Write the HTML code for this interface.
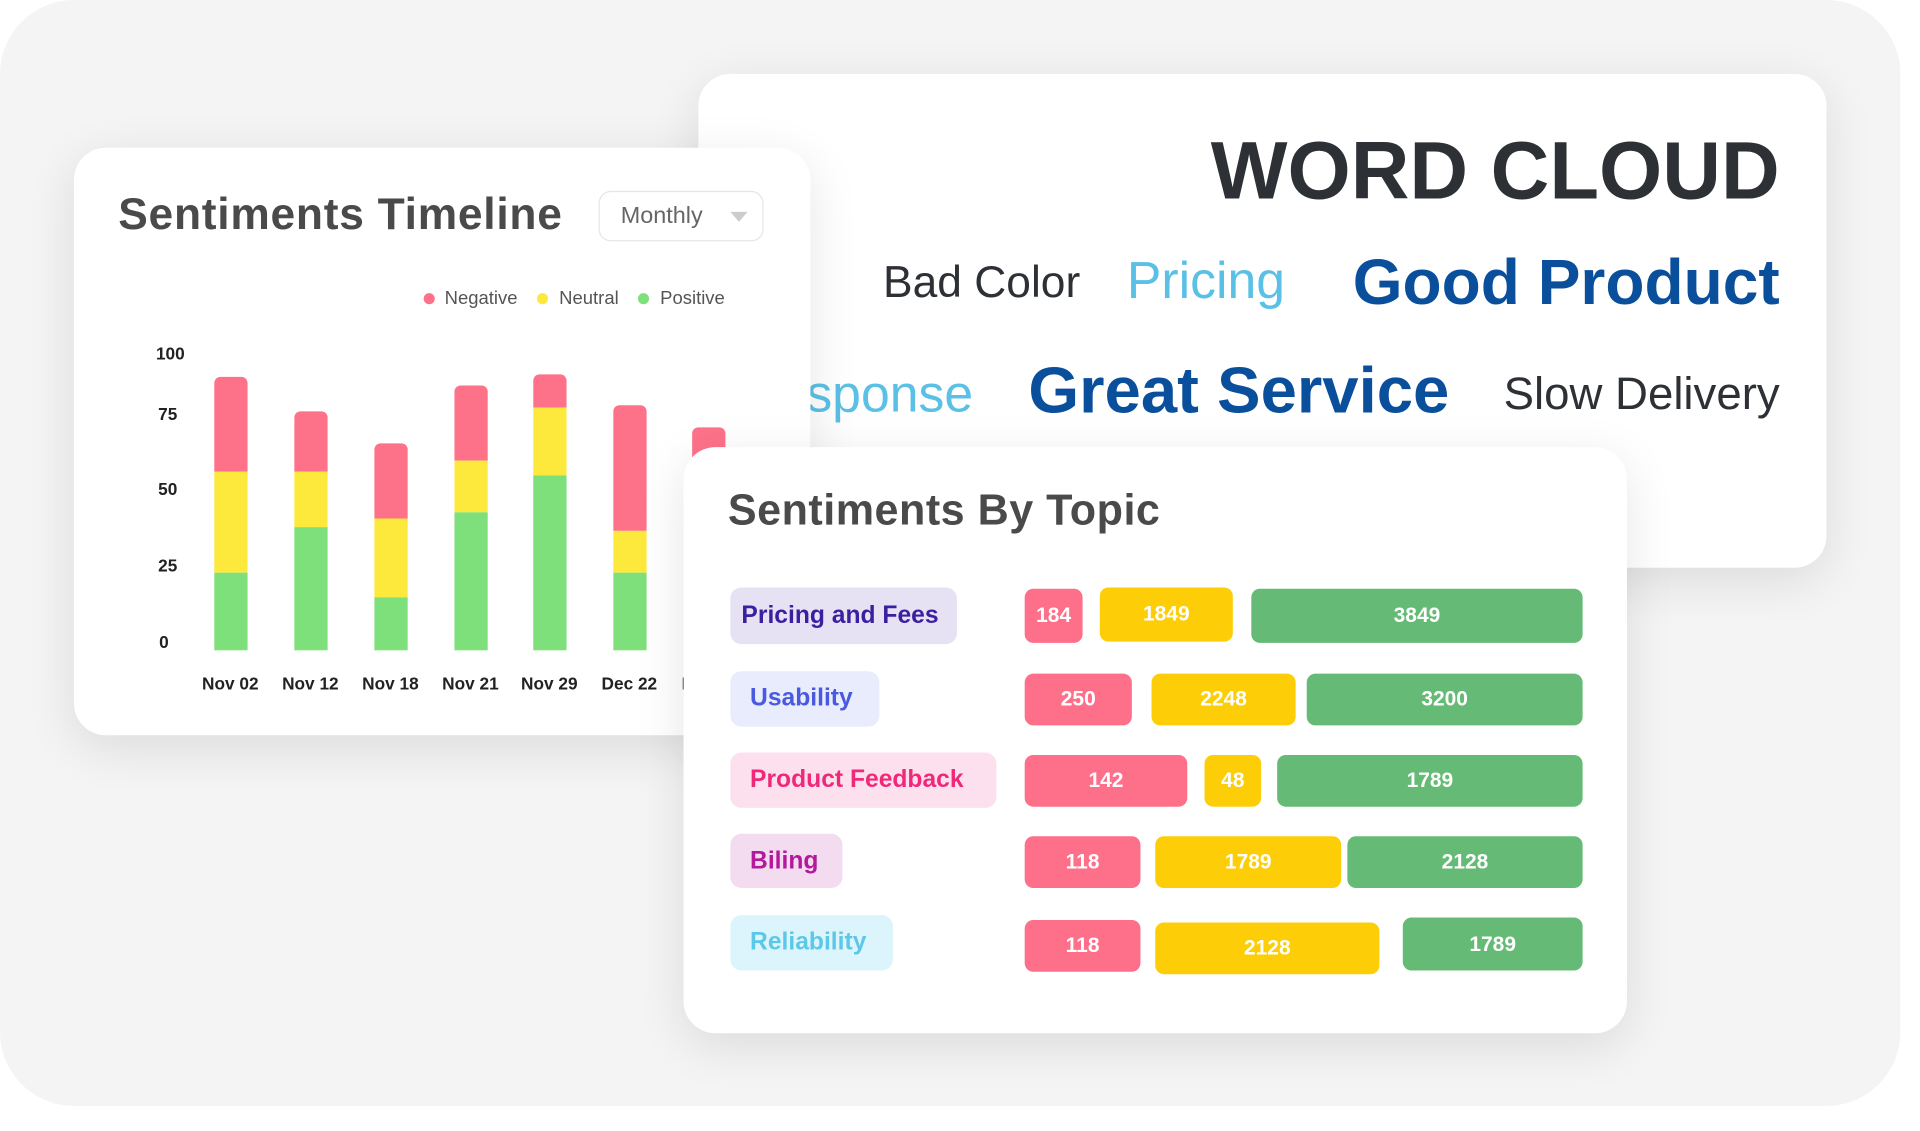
<!DOCTYPE html>
<html><head><meta charset="utf-8"><style>
html,body{margin:0;padding:0;background:#fff;width:1920px;height:1131px;overflow:hidden}
#s{position:absolute;left:0;top:0;width:1559px;height:918px;transform:scale(1.2316);transform-origin:0 0;font-family:"Liberation Sans",sans-serif}
.bg{position:absolute;left:0;top:0;width:1543px;height:898px;background:#f4f4f4;border-radius:60px}
.card{position:absolute;background:#fff;border-radius:26px;box-shadow:0 10px 40px rgba(0,0,0,0.10)}
.t{position:absolute;white-space:nowrap}
.bar{position:absolute;width:27px}
.r{background:#fe7289}.y{background:#fde93c}.g{background:#7ee07a}
.pill{position:absolute;border-radius:9px;font-weight:bold;font-size:20px;display:flex;align-items:center;padding-left:16px;box-sizing:border-box}
.hb{position:absolute;border-radius:7px;color:#fff;font-weight:bold;font-size:17px;display:flex;align-items:center;justify-content:center}
.R{background:#fe6f8a}.Y{background:#fdcd08}.G{background:#65bb75}
.yl{position:absolute;font-size:14px;font-weight:bold;color:#222;width:30px;text-align:right;left:120px}
.xl{position:absolute;top:547px;font-size:14px;font-weight:bold;color:#222;width:70px;text-align:center}
</style></head><body><div id="s">
<div class="bg"></div>

<div class="card" style="left:567px;top:60px;width:916px;height:401px">
  <div class="t" style="right:38px;top:40px;font-size:66px;font-weight:bold;color:#2d3035">WORD CLOUD</div>
  <div class="t" style="left:150px;top:148px;font-size:36px;color:#2d3035">Bad Color</div>
  <div class="t" style="left:348px;top:144px;font-size:42px;color:#5bc0e6">Pricing</div>
  <div class="t" style="right:38px;top:140px;font-size:52px;font-weight:bold;color:#0a4f9c">Good Product</div>
  <div class="t" style="left:34px;top:236px;font-size:42px;color:#5bc0e6">Response</div>
  <div class="t" style="left:268px;top:227px;font-size:53px;font-weight:bold;color:#0a4f9c">Great Service</div>
  <div class="t" style="right:38px;top:239px;font-size:37px;color:#2d3035">Slow Delivery</div>
</div>

<div class="card" style="left:60px;top:120px;width:598px;height:477px">
  <div class="t" style="left:36px;top:33px;font-size:36px;font-weight:bold;color:#4a4a4a;letter-spacing:0.6px">Sentiments Timeline</div>
  <div style="position:absolute;left:426px;top:35px;width:134px;height:41px;border:1px solid #e6e6e6;border-radius:10px;box-sizing:border-box"></div>
  <div class="t" style="left:444px;top:45px;font-size:19px;color:#666">Monthly</div>
  <div style="position:absolute;left:533px;top:52px;width:0;height:0;border-left:7px solid transparent;border-right:7px solid transparent;border-top:8px solid #ccc"></div>
</div>
<div style="position:absolute;left:0;top:0">
  <div style="position:absolute;left:344px;top:238px;width:9px;height:9px;border-radius:50%;background:#fe7289"></div>
  <div class="t" style="left:361px;top:234px;font-size:15px;color:#555">Negative</div>
  <div style="position:absolute;left:436px;top:238px;width:9px;height:9px;border-radius:50%;background:#fde93c"></div>
  <div class="t" style="left:454px;top:234px;font-size:15px;color:#555">Neutral</div>
  <div style="position:absolute;left:518px;top:238px;width:9px;height:9px;border-radius:50%;background:#7ee07a"></div>
  <div class="t" style="left:536px;top:234px;font-size:15px;color:#555">Positive</div>
  <div class="yl" style="top:279px">100</div>
  <div class="yl" style="top:328px;left:114px">75</div>
  <div class="yl" style="top:389px;left:114px">50</div>
  <div class="yl" style="top:451px;left:114px">25</div>
  <div class="yl" style="top:513px;left:107px">0</div>

  <div class="bar r" style="left:174px;top:306px;height:77px;border-radius:5px 5px 0 0"></div><div class="bar y" style="left:174px;top:383px;height:82px"></div><div class="bar g" style="left:174px;top:465px;height:63px"></div>
  <div class="bar r" style="left:239px;top:334px;height:49px;border-radius:5px 5px 0 0"></div><div class="bar y" style="left:239px;top:383px;height:45px"></div><div class="bar g" style="left:239px;top:428px;height:100px"></div>
  <div class="bar r" style="left:304px;top:360px;height:61px;border-radius:5px 5px 0 0"></div><div class="bar y" style="left:304px;top:421px;height:64px"></div><div class="bar g" style="left:304px;top:485px;height:43px"></div>
  <div class="bar r" style="left:369px;top:313px;height:61px;border-radius:5px 5px 0 0"></div><div class="bar y" style="left:369px;top:374px;height:42px"></div><div class="bar g" style="left:369px;top:416px;height:112px"></div>
  <div class="bar r" style="left:433px;top:304px;height:27px;border-radius:5px 5px 0 0"></div><div class="bar y" style="left:433px;top:331px;height:55px"></div><div class="bar g" style="left:433px;top:386px;height:142px"></div>
  <div class="bar r" style="left:498px;top:329px;height:102px;border-radius:5px 5px 0 0"></div><div class="bar y" style="left:498px;top:431px;height:34px"></div><div class="bar g" style="left:498px;top:465px;height:63px"></div>
  <div class="bar r" style="left:562px;top:347px;height:60px;border-radius:5px 5px 0 0"></div>

  <div class="xl" style="left:152px">Nov 02</div>
  <div class="xl" style="left:217px">Nov 12</div>
  <div class="xl" style="left:282px">Nov 18</div>
  <div class="xl" style="left:347px">Nov 21</div>
  <div class="xl" style="left:411px">Nov 29</div>
  <div class="xl" style="left:476px">Dec 22</div>
  <div class="xl" style="left:541px">Dec 28</div>
</div>

<div class="card" style="left:555px;top:363px;width:766px;height:476px">
  <div class="t" style="left:36px;top:32px;font-size:35px;font-weight:bold;color:#4a4a4a;letter-spacing:0.4px">Sentiments By Topic</div>
</div>
<div style="position:absolute;left:0;top:0">
  <div class="pill" style="left:593px;top:477px;width:184px;height:46px;background:#e6e2f3;color:#3a1fa0;padding-left:9px">Pricing and Fees</div>
  <div class="pill" style="left:593px;top:545px;width:121px;height:45px;background:#e8ecfd;color:#4a5ae0">Usability</div>
  <div class="pill" style="left:593px;top:611px;width:216px;height:45px;background:#fde0ee;color:#f0287a">Product Feedback</div>
  <div class="pill" style="left:593px;top:677px;width:91px;height:44px;background:#f3dcef;color:#b4189c">Biling</div>
  <div class="pill" style="left:593px;top:743px;width:132px;height:45px;background:#dcf4fc;color:#5cc8e8">Reliability</div>

  <div class="hb R" style="left:832px;top:478px;width:47px;height:44px">184</div>
  <div class="hb Y" style="left:893px;top:477px;width:108px;height:44px">1849</div>
  <div class="hb G" style="left:1016px;top:478px;width:269px;height:44px">3849</div>

  <div class="hb R" style="left:832px;top:547px;width:87px;height:42px">250</div>
  <div class="hb Y" style="left:935px;top:547px;width:117px;height:42px">2248</div>
  <div class="hb G" style="left:1061px;top:547px;width:224px;height:42px">3200</div>

  <div class="hb R" style="left:832px;top:613px;width:132px;height:42px">142</div>
  <div class="hb Y" style="left:978px;top:613px;width:46px;height:42px">48</div>
  <div class="hb G" style="left:1037px;top:613px;width:248px;height:42px">1789</div>

  <div class="hb R" style="left:832px;top:679px;width:94px;height:42px">118</div>
  <div class="hb Y" style="left:938px;top:679px;width:151px;height:42px">1789</div>
  <div class="hb G" style="left:1094px;top:679px;width:191px;height:42px">2128</div>

  <div class="hb R" style="left:832px;top:747px;width:94px;height:42px">118</div>
  <div class="hb Y" style="left:938px;top:749px;width:182px;height:42px">2128</div>
  <div class="hb G" style="left:1139px;top:745px;width:146px;height:43px">1789</div>
</div>
</div></body></html>
